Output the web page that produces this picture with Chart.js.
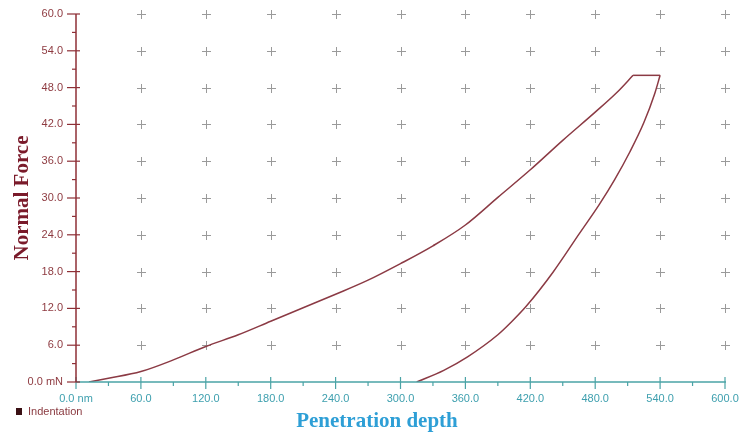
<!DOCTYPE html>
<html>
<head>
<meta charset="utf-8">
<script src="https://cdn.jsdelivr.net/npm/chart.js@4/dist/chart.umd.min.js"></script>
<style>
  html, body { margin: 0; padding: 0; background: #fff; }
  #wrap { width: 744px; height: 436px; position: relative; }
</style>
</head>
<body>
<div id="wrap"><canvas id="indentChart"></canvas></div>
<script>
// loading branch (nm, mN)
const loadDepth = [12, 30, 60, 90, 120, 150, 180, 210, 240, 270, 300, 330, 360, 390, 420, 450, 480, 500, 515];
const loadForce = [0, 0.6, 1.7, 3.6, 5.8, 7.7, 9.9, 12.1, 14.3, 16.6, 19.3, 22.2, 25.6, 30.1, 34.6, 39.4, 44.0, 47.2, 50];
// hold at peak load
const holdDepth = [515, 540];
const holdForce = [50, 50];
// unloading branch
const unloadDepth = [540, 535, 525, 512, 498, 484, 465, 441, 416, 402, 390, 362, 340, 315];
const unloadForce = [50, 47.0, 42.3, 37.5, 33.0, 29.0, 24.1, 17.9, 12.3, 9.7, 7.7, 4.1, 1.9, 0];

const xTickLabels = ['0.0 nm', '60.0', '120.0', '180.0', '240.0', '300.0', '360.0', '420.0', '480.0', '540.0', '600.0'];
const yTickLabels = ['0.0 mN', '6.0', '12.0', '18.0', '24.0', '30.0', '36.0', '42.0', '48.0', '54.0', '60.0'];

const seriesName = 'Indentation';

document.addEventListener('DOMContentLoaded', function () {

    const toPoints = (xs, ys) => xs.map((d, i) => ({ x: d, y: ys[i] }));
    const lineColor = '#8b3a44';

    function segment(label, pts, smooth) {
        return {
            label: label,
            data: pts,
            showLine: true,
            borderColor: lineColor,
            borderWidth: 1.5,
            pointRadius: 0,
            cubicInterpolationMode: smooth ? 'monotone' : 'default',
            tension: 0,
            fill: false
        };
    }

    // crosses, axis lines, tick marks, legend and x title
    const decorPlugin = {
        id: 'decor',
        beforeDatasetsDraw(chart) {
            const ctx = chart.ctx;
            const xs = chart.scales.x, ys = chart.scales.y;
            ctx.save();
            ctx.strokeStyle = '#9a9a9a';
            ctx.lineWidth = 1;
            xs.ticks.forEach(tx => {
                if (tx.value === 0) return;
                ys.ticks.forEach(ty => {
                    if (ty.value === 0) return;
                    const px = Math.round(xs.getPixelForValue(tx.value)) + 0.5;
                    const py = Math.round(ys.getPixelForValue(ty.value)) + 0.5;
                    ctx.beginPath();
                    ctx.moveTo(px - 4.5, py); ctx.lineTo(px + 4.5, py);
                    ctx.moveTo(px, py - 4.5); ctx.lineTo(px, py + 4.5);
                    ctx.stroke();
                });
            });
            ctx.restore();
        },
        afterDraw(chart) {
            const ctx = chart.ctx;
            const xs = chart.scales.x, ys = chart.scales.y;
            const a = chart.chartArea;
            ctx.save();

            // x axis
            ctx.strokeStyle = '#4aa3a6';
            ctx.lineWidth = 1.5;
            ctx.beginPath();
            ctx.moveTo(a.left, a.bottom); ctx.lineTo(a.right + 1, a.bottom);
            ctx.stroke();
            ctx.lineWidth = 1.2;
            for (let v = 0; v <= 600; v += 30) {
                const px = xs.getPixelForValue(v);
                ctx.beginPath();
                if (v % 60 === 0) { ctx.moveTo(px, a.bottom - 5); ctx.lineTo(px, a.bottom + 7); }
                else { ctx.moveTo(px, a.bottom); ctx.lineTo(px, a.bottom + 4); }
                ctx.stroke();
            }

            // y axis
            ctx.strokeStyle = '#8e2f36';
            ctx.lineWidth = 1.5;
            ctx.beginPath();
            ctx.moveTo(a.left, a.top); ctx.lineTo(a.left, a.bottom);
            ctx.stroke();
            ctx.lineWidth = 1.2;
            for (let v = 0; v <= 60; v += 3) {
                const py = ys.getPixelForValue(v);
                ctx.beginPath();
                if (v % 6 === 0) { ctx.moveTo(a.left - 9, py); ctx.lineTo(a.left + 4, py); }
                else { ctx.moveTo(a.left - 4, py); ctx.lineTo(a.left, py); }
                ctx.stroke();
            }

            // x title
            ctx.fillStyle = '#2e9fd6';
            ctx.font = 'bold 21px "Liberation Serif", "DejaVu Serif", serif';
            ctx.textAlign = 'center';
            ctx.textBaseline = 'middle';
            ctx.fillText('Penetration depth', 377, 422);

            // legend
            ctx.fillStyle = '#3a1014';
            ctx.fillRect(16, 408, 6, 7);
            ctx.fillStyle = '#8a3a40';
            ctx.font = '11px "Liberation Sans", Arial, sans-serif';
            ctx.textAlign = 'left';
            ctx.fillText(seriesName, 28, 412);

            ctx.restore();
        }
    };

    const ctx = document.getElementById('indentChart').getContext('2d');

    new Chart(ctx, {
        type: 'scatter',
        data: {
            datasets: [
                segment(seriesName, toPoints(loadDepth, loadForce), true),
                segment(seriesName + ' hold', toPoints(holdDepth, holdForce), false),
                // ascending depth order so the monotone spline behaves
                segment(seriesName + ' unload', toPoints(unloadDepth, unloadForce).reverse(), true)
            ]
        },
        options: {
            responsive: true,
            maintainAspectRatio: false,
            animation: false,
            layout: {
                padding: { left: 0, right: 19, top: 14, bottom: 0 }
            },
            plugins: {
                legend: { display: false },
                tooltip: { enabled: false }
            },
            scales: {
                x: {
                    type: 'linear',
                    min: 0,
                    max: 600,
                    grid: { display: false, drawTicks: false },
                    border: { display: false },
                    ticks: {
                        stepSize: 60,
                        padding: 10,
                        maxRotation: 0,
                        color: '#3d9fae',
                        font: { family: '"Liberation Sans", Arial, sans-serif', size: 11 },
                        callback: (v, i) => xTickLabels[i]
                    },
                    afterFit(s) { s.height = 54; s.paddingLeft = 0; s.paddingRight = 0; }
                },
                y: {
                    type: 'linear',
                    min: 0,
                    max: 60,
                    grid: { display: false, drawTicks: false },
                    border: { display: false },
                    title: {
                        display: true,
                        text: 'Normal Force',
                        color: '#7a1a2a',
                        padding: { top: 10, bottom: 0 },
                        font: { family: '"Liberation Serif", "DejaVu Serif", serif', size: 21, weight: 'bold' }
                    },
                    ticks: {
                        stepSize: 6,
                        padding: 13,
                        color: '#8e3a40',
                        font: { family: '"Liberation Sans", Arial, sans-serif', size: 11 },
                        callback: (v, i) => yTickLabels[i]
                    },
                    afterFit(s) { s.width = 76; s.paddingTop = 0; s.paddingBottom = 0; }
                }
            }
        },
        plugins: [decorPlugin]
    });
});
</script>
</body>
</html>
